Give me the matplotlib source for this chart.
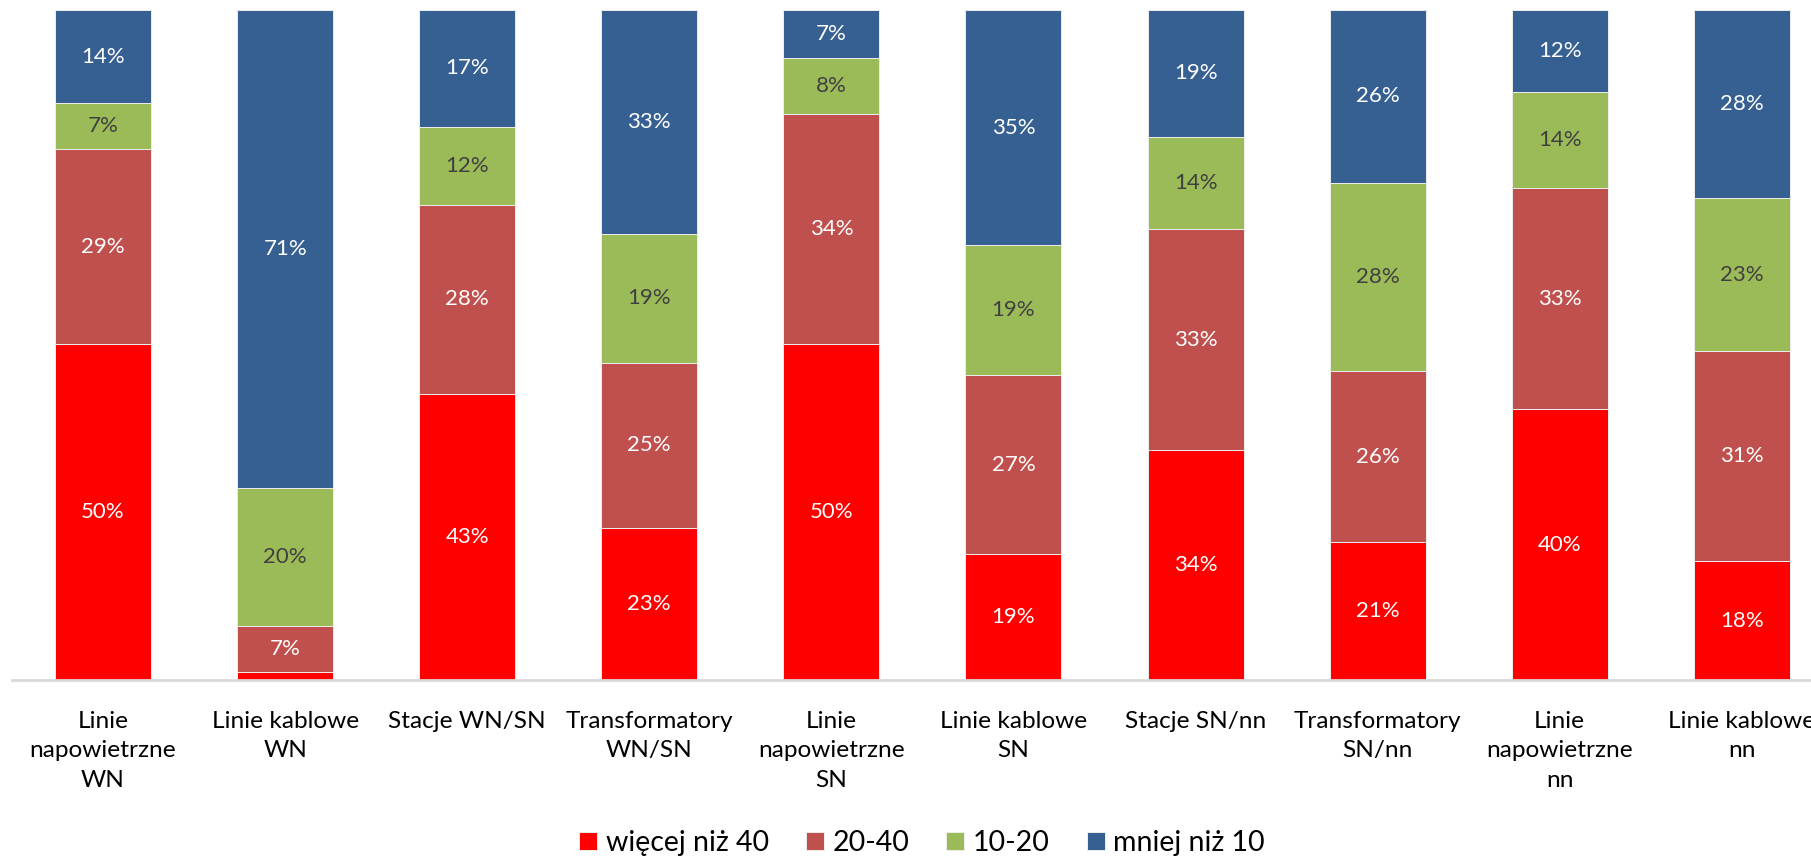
import numpy as np
import matplotlib
matplotlib.use("Agg")
import matplotlib.pyplot as plt

plt.rcParams['font.family'] = ['Lato', 'DejaVu Sans']

# share of assets by age group (%)
categories = ["Linie\nnapowietrzne\nWN", "Linie kablowe\nWN", "Stacje WN/SN",
              "Transformatory\nWN/SN", "Linie\nnapowietrzne\nSN", "Linie kablowe\nSN",
              "Stacje SN/nn", "Transformatory\nSN/nn", "Linie\nnapowietrzne\nnn",
              "Linie kablowe\nnn"]
over_40 = [50.1, 1.2, 42.7, 22.7, 50.1, 18.8, 34.3, 20.6, 40.4, 17.7]
from_20_40 = [29.2, 6.9, 28.2, 24.6, 34.4, 26.7, 33.0, 25.5, 33.0, 31.4]
from_10_20 = [6.8, 20.5, 11.7, 19.3, 8.3, 19.4, 13.8, 28.1, 14.4, 22.8]
under_10 = [13.9, 71.4, 17.4, 33.4, 7.2, 35.1, 18.9, 25.8, 12.2, 28.1]

series = [over_40, from_20_40, from_10_20, under_10]
names = ["więcej niż 40", "20-40", "10-20", "mniej niż 10"]
colors = ["#FF0000", "#C0504D", "#9BBB59", "#366092"]
text_colors = ["white", "white", "#404040", "white"]

fig = plt.figure(figsize=(18.11, 8.59), dpi=100)
ax = fig.add_axes([12 / 1811, 1 - 680 / 859, 1 - 12 / 1811, (680 - 10) / 859])

x = np.arange(len(categories))
bottom = np.zeros(len(categories))
for vals, name, col, tcol in zip(series, names, colors, text_colors):
    vals = np.array(vals)
    ax.bar(x, vals, 0.527, bottom=bottom, color=col, label=name,
           edgecolor="#EDEDED", linewidth=0.7)
    for xi, b, v in zip(x, bottom, vals):
        if v >= 3:
            ax.text(xi, b + v / 2, f"{round(v)}%", ha="center", va="center",
                    fontsize=16, color=tcol)
    bottom += vals

ax.set_xlim(-0.5, 9.38)
ax.set_ylim(0, 100)
ax.set_xticks(x)
ax.set_xticklabels(categories, fontsize=17.6, linespacing=1.5)
ax.tick_params(axis="x", length=0, pad=22)
ax.set_yticks([])
for side in ["top", "right", "left"]:
    ax.spines[side].set_visible(False)
ax.spines["bottom"].set_color("#D9D9D9")
ax.spines["bottom"].set_linewidth(2)

fig.legend(loc="center", bbox_to_anchor=(922 / 1811, 1 - 843 / 859), ncol=4,
           frameon=False, fontsize=20.5, handlelength=0.63, handleheight=0.6,
           handletextpad=0.3, columnspacing=1.3, borderpad=0)

fig.savefig("out.png", dpi=100)
